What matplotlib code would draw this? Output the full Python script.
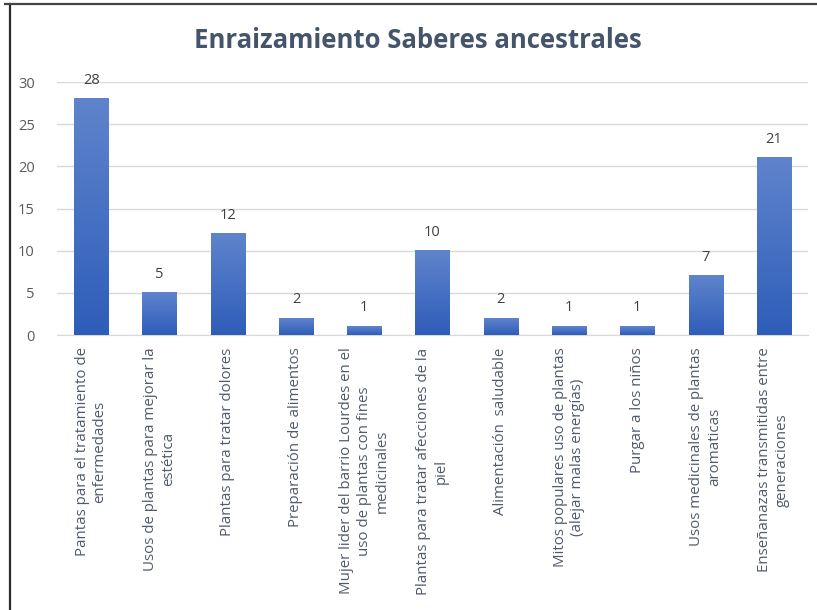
import matplotlib
matplotlib.use("Agg")
import matplotlib.pyplot as plt
import numpy as np
from matplotlib.lines import Line2D
from matplotlib.colors import LinearSegmentedColormap

categories = [
    "Pantas para el tratamiento de\nenfermedades",
    "Usos de plantas para mejorar la\nestética",
    "Plantas para tratar dolores",
    "Preparación de alimentos",
    "Mujer lider del barrio Lourdes en el\nuso de plantas con fines\nmedicinales",
    "Plantas para tratar afecciones de la\npiel",
    "Alimentación  saludable",
    "Mitos populares uso de plantas\n(alejar malas energías)",
    "Purgar a los niños",
    "Usos medicinales de plantas\naromaticas",
    "Enseñanazas transmitidas entre\ngeneraciones",
]
values = [28, 5, 12, 2, 1, 10, 2, 1, 1, 7, 21]
yticks = [0, 5, 10, 15, 20, 25, 30]
title = "Enraizamiento Saberes ancestrales"

W, H = 817, 610
fig = plt.figure(figsize=(W / 100, H / 100), dpi=100)
fig.patch.set_facecolor("white")

left, right, top, bottom = 57, 808, 82, 335
ax = fig.add_axes([left / W, 1 - bottom / H, (right - left) / W, (bottom - top) / H])

x = np.arange(len(values))
bars = ax.bar(x, values, width=0.5, color="none", edgecolor="none", zorder=3)

cmap = LinearSegmentedColormap.from_list("g", ["#2E5DB9", "#5F84CC"])
grad = np.linspace(0, 1, 256).reshape(-1, 1)
for b in bars:
    bx, bw, bh = b.get_x(), b.get_width(), b.get_height()
    ax.imshow(grad, cmap=cmap, origin="lower", aspect="auto",
              extent=[bx, bx + bw, 0, bh], zorder=3)
for xi, v in zip(x, values):
    ax.annotate(str(v), (xi, v), xytext=(0, 8), textcoords="offset points",
                ha="center", va="bottom", fontsize=10.5, color="#404040",
                family="Open Sans", zorder=4)

ax.set_xlim(-0.5, len(values) - 0.5)
ax.set_ylim(0, 30)
ax.set_yticks(yticks)
ax.set_yticklabels([str(t) for t in yticks], family="Open Sans", fontsize=10.5, color="#595959")
ax.yaxis.grid(True, color="#D9D9D9", linewidth=1, zorder=0)
ax.set_axisbelow(True)
for s in ["top", "right", "left"]:
    ax.spines[s].set_visible(False)
ax.spines["bottom"].set_color("#D9D9D9")
ax.tick_params(axis="y", length=0, pad=16)
ax.tick_params(axis="x", length=0, pad=9)
ax.set_xticks(x)
ax.set_xticklabels(categories, rotation=90, ha="center", va="top",
                   multialignment="center", family="Open Sans", fontsize=10.8,
                   color="#505A6B", linespacing=1.25)

fig.text(418 / W, 1 - 40 / H, title, ha="center", va="center", fontsize=18.5,
         fontweight="bold", color="#44546A", family="Open Sans")

# screenshot frame
fig.add_artist(Line2D([10 / W, 10 / W], [0, 1 - 4 / H], transform=fig.transFigure,
                      color="#2b2b2b", linewidth=1.6))
fig.add_artist(Line2D([5 / W, 1], [1 - 4 / H, 1 - 4 / H], transform=fig.transFigure,
                      color="#444444", linewidth=1.6))

fig.savefig("out.png", dpi=100, facecolor="white")
